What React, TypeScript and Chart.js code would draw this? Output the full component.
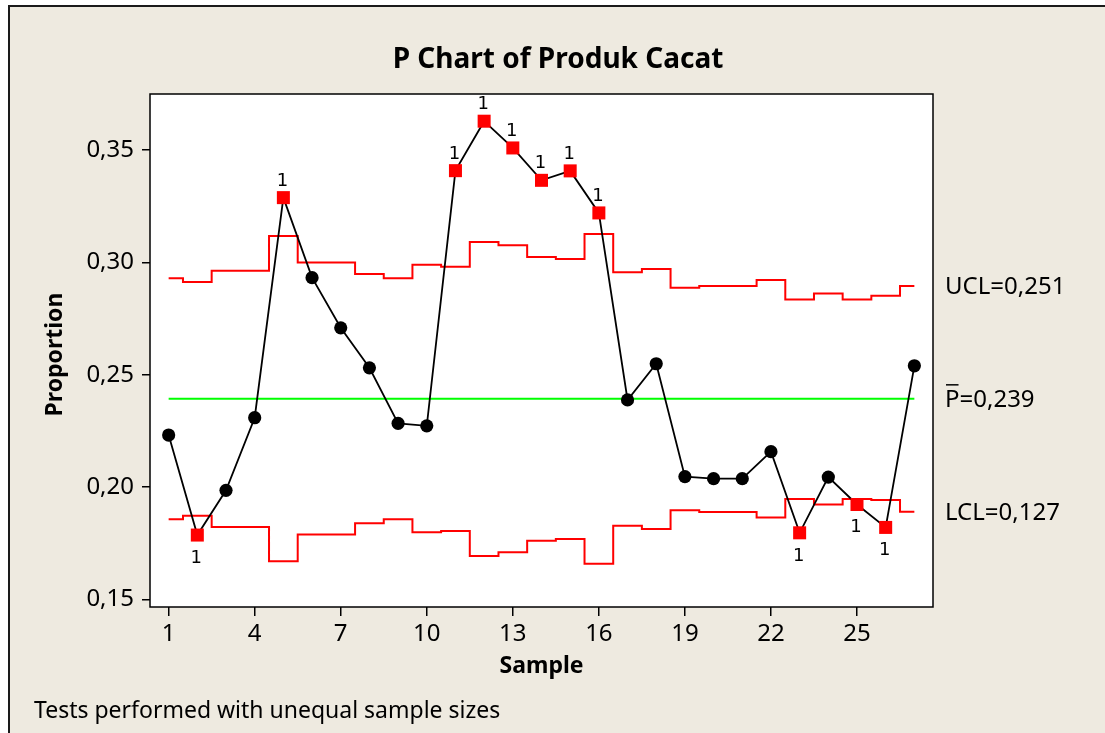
import React, { useEffect, useRef } from "react";
import { Chart, registerables } from "chart.js";

Chart.register(...registerables);

const samples = [1, 2, 3, 4, 5, 6, 7, 8, 9, 10, 11, 12, 13, 14, 15, 16, 17, 18, 19, 20, 21, 22, 23, 24, 25, 26, 27];
const proportions = [
  0.2232, 0.1787, 0.1986, 0.2309, 0.3288, 0.2932, 0.2709, 0.2531, 0.2284, 0.2273,
  0.3408, 0.3628, 0.3509, 0.3365, 0.3407, 0.322, 0.2388, 0.2549, 0.2047, 0.2038,
  0.2038, 0.2158, 0.1797, 0.2045, 0.1923, 0.1821, 0.254,
];
const ucl = [
  0.2929, 0.2913, 0.2963, 0.2963, 0.3117, 0.2999, 0.2999, 0.2948, 0.2929, 0.299,
  0.2981, 0.3091, 0.3076, 0.3024, 0.3015, 0.3126, 0.2956, 0.2971, 0.2887, 0.2895,
  0.2895, 0.2922, 0.2835, 0.2862, 0.2835, 0.2852, 0.2895,
];
const lcl = [
  0.1857, 0.1873, 0.1823, 0.1823, 0.167, 0.1789, 0.1789, 0.184, 0.1857, 0.1799,
  0.1805, 0.1694, 0.1711, 0.1762, 0.1769, 0.1659, 0.1828, 0.1814, 0.1897, 0.189,
  0.189, 0.1865, 0.1947, 0.1923, 0.1947, 0.1943, 0.1891,
];
const centerLine = [0.2393, 0.2393];
const centerLineX = [1, 27];
const xTickValues = [1, 4, 7, 10, 13, 16, 19, 22, 25];
const xTickLabels = ["1", "4", "7", "10", "13", "16", "19", "22", "25"];
const yTickValues = [0.15, 0.2, 0.25, 0.3, 0.35];
const yTickLabels = ["0,15", "0,20", "0,25", "0,30", "0,35"];
const titleText = "P Chart of Produk Cacat";
const xTitle = "Sample";
const yTitle = "Proportion";
const uclLabel = "UCL=0,251";
const pbarLabel = "P=0,239";
const lclLabel = "LCL=0,127";
const footnote = "Tests performed with unequal sample sizes";
const testLabel = "1";

const BG = "#EEEAE0";
const FONT = '"Noto Sans", "DejaVu Sans", sans-serif';

const isOut = (i: number) => proportions[i] > ucl[i] || proportions[i] < lcl[i];

const decor = {
  id: "decor",
  beforeDraw(chart: any) {
    const ctx = chart.ctx;
    const w = chart.width;
    const h = chart.height;
    const a = chart.chartArea;
    const ys = chart.scales.y;
    ctx.save();
    ctx.fillStyle = "#ffffff";
    ctx.fillRect(0, 0, w, h);
    ctx.fillStyle = BG;
    ctx.fillRect(9, 6, w - 9, h - 6);
    ctx.strokeStyle = "#1a1a1a";
    ctx.lineWidth = 2;
    ctx.beginPath();
    ctx.moveTo(9, h);
    ctx.lineTo(9, 6);
    ctx.lineTo(w, 6);
    ctx.stroke();
    ctx.fillStyle = "#ffffff";
    ctx.fillRect(a.left, a.top, a.right - a.left, a.bottom - a.top);

    ctx.fillStyle = "#000000";
    ctx.textBaseline = "alphabetic";
    // title
    ctx.font = `bold 28px ${FONT}`;
    ctx.textAlign = "center";
    ctx.fillText(titleText, 558, 68);
    // x title
    ctx.font = `bold 23px ${FONT}`;
    ctx.fillText(xTitle, (a.left + a.right) / 2, 673);
    // y title
    ctx.save();
    ctx.translate(62, (a.top + a.bottom) / 2 + 4);
    ctx.rotate(-Math.PI / 2);
    ctx.fillText(yTitle, 0, 0);
    ctx.restore();
    // footnote
    ctx.font = `23px ${FONT}`;
    ctx.textAlign = "left";
    ctx.fillText(footnote, 34, 718);
    // right labels
    ctx.font = `24px ${FONT}`;
    const lx = 945;
    const last = samples.length - 1;
    ctx.fillText(uclLabel, lx, ys.getPixelForValue(ucl[last]) + 8);
    const pby = ys.getPixelForValue(centerLine[1]) + 8;
    ctx.fillText(pbarLabel, lx, pby);
    const pw = ctx.measureText("P").width;
    ctx.strokeStyle = "#000";
    ctx.lineWidth = 1.5;
    ctx.beginPath();
    ctx.moveTo(lx + 1, pby - 22);
    ctx.lineTo(lx + pw - 1, pby - 22);
    ctx.stroke();
    ctx.fillText(lclLabel, lx, ys.getPixelForValue(lcl[last]) + 8);
    ctx.restore();
  },
  afterDatasetsDraw(chart: any) {
    const ctx = chart.ctx;
    const meta = chart.getDatasetMeta(0);
    ctx.save();
    ctx.font = '18px "DejaVu Sans", sans-serif';
    ctx.fillStyle = "#000";
    ctx.textAlign = "center";
    ctx.textBaseline = "alphabetic";
    proportions.forEach((v, i) => {
      const el = meta.data[i];
      if (!el) return;
      if (v > ucl[i]) ctx.fillText(testLabel, el.x - 1, el.y - 12);
      else if (v < lcl[i]) ctx.fillText(testLabel, el.x - 1, el.y + 28);
    });
    ctx.restore();
  },
  afterDraw(chart: any) {
    const ctx = chart.ctx;
    const a = chart.chartArea;
    ctx.save();
    ctx.strokeStyle = "#000";
    ctx.lineWidth = 1.5;
    ctx.strokeRect(a.left, a.top, a.right - a.left, a.bottom - a.top);
    ctx.restore();
  },
};

export default function App() {
  const ref = useRef<HTMLCanvasElement | null>(null);
  useEffect(() => {
    if (!ref.current) return;
    const chart = new Chart(ref.current, {
      type: "line",
      data: {
        datasets: [
          {
            label: "Proportion",
            data: samples.map((s, i) => ({ x: s, y: proportions[i] })),
            borderColor: "#000000",
            borderWidth: 1.8,
            pointStyle: proportions.map((_, i) => (isOut(i) ? "rect" : "circle")) as any,
            pointRadius: proportions.map((_, i) => (isOut(i) ? 9.2 : 6.6)),
            pointBackgroundColor: proportions.map((_, i) => (isOut(i) ? "#FF0000" : "#000000")),
            pointBorderColor: proportions.map((_, i) => (isOut(i) ? "#FF0000" : "#000000")),
            pointBorderWidth: 0,
            tension: 0,
          },
          {
            label: "UCL",
            data: samples.map((s, i) => ({ x: s, y: ucl[i] })),
            borderColor: "#FF0000",
            borderWidth: 2,
            pointRadius: 0,
            stepped: "middle",
          },
          {
            label: "LCL",
            data: samples.map((s, i) => ({ x: s, y: lcl[i] })),
            borderColor: "#FF0000",
            borderWidth: 2,
            pointRadius: 0,
            stepped: "middle",
          },
          {
            label: "Center",
            data: centerLineX.map((s, i) => ({ x: s, y: centerLine[i] })),
            borderColor: "#00FF00",
            borderWidth: 2,
            pointRadius: 0,
          },
        ],
      },
      options: {
        responsive: false,
        animation: false,
        devicePixelRatio: 1,
        layout: { padding: { left: 0, top: 94, right: 172, bottom: 0 } },
        plugins: {
          legend: { display: false },
          title: { display: false },
          tooltip: { enabled: false },
        },
        scales: {
          x: {
            type: "linear",
            min: 0.35,
            max: 27.65,
            afterBuildTicks: (scale: any) => {
              scale.ticks = xTickValues.map((v) => ({ value: v }));
            },
            afterFit: (scale: any) => {
              scale.height = 126;
            },
            ticks: {
              autoSkip: false,
              maxRotation: 0,
              padding: 4,
              color: "#000",
              font: { family: FONT, size: 24 },
              callback: (_v: any, i: number) => xTickLabels[i],
            },
            grid: { drawOnChartArea: false, drawTicks: true, tickLength: 9, color: "#000", lineWidth: 1.5 },
            border: { display: false },
          },
          y: {
            type: "linear",
            min: 0.1467,
            max: 0.3749,
            afterBuildTicks: (scale: any) => {
              scale.ticks = yTickValues.map((v) => ({ value: v }));
            },
            afterFit: (scale: any) => {
              scale.width = 150;
            },
            ticks: {
              autoSkip: false,
              padding: 8,
              color: "#000",
              font: { family: FONT, size: 24 },
              callback: (_v: any, i: number) => yTickLabels[i],
            },
            grid: { drawOnChartArea: false, drawTicks: true, tickLength: 8, color: "#000", lineWidth: 1.5 },
            border: { display: false },
          },
        },
      },
      plugins: [decor],
    } as any);
    return () => chart.destroy();
  }, []);
  return (
    <div style={{ position: "absolute", left: 0, top: 0, width: 1105, height: 733 }}>
      <canvas ref={ref} width={1105} height={733} style={{ width: 1105, height: 733, display: "block" }} />
    </div>
  );
}
